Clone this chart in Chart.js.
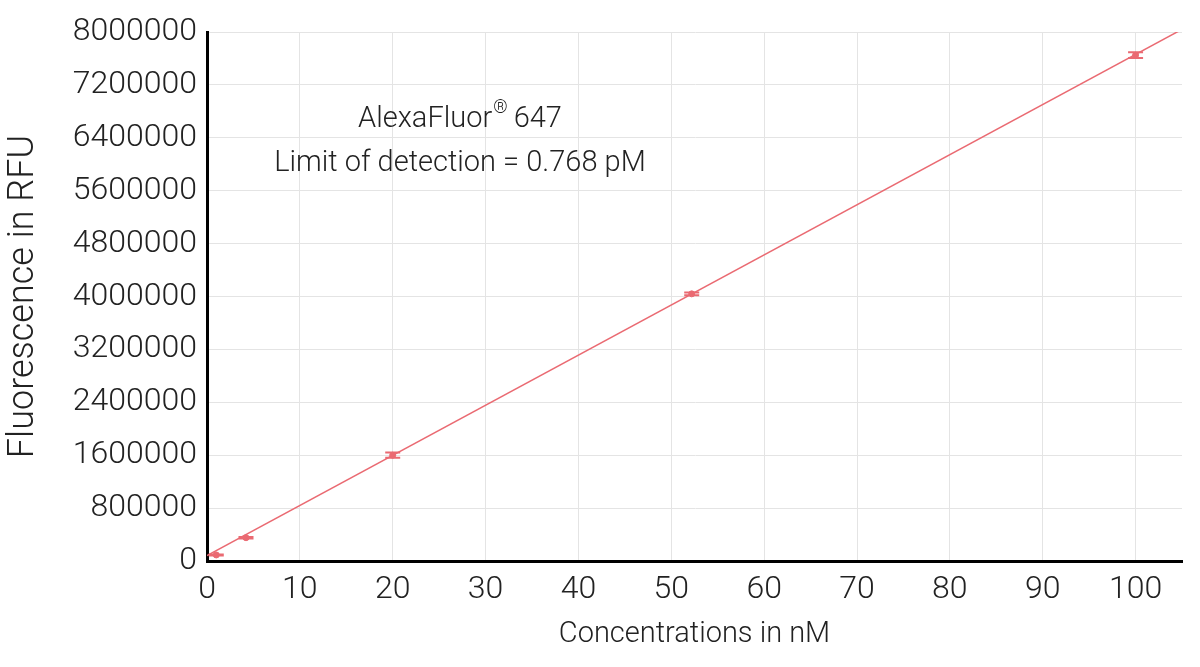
<!DOCTYPE html>
<html>
<head>
<meta charset="utf-8">
<script src="https://cdn.jsdelivr.net/npm/chart.js@4/dist/chart.umd.min.js"></script>
<style>
  html, body { margin: 0; padding: 0; background: #fff; }
  #chart { display: block; }
</style>
</head>
<body>
<canvas id="chart" width="1200" height="667"></canvas>
<script>
// measured points (concentration in nM, fluorescence in RFU)
const concentrations = [1, 4.2, 20, 52.2, 100];
const fluorescence = [91000, 352000, 1600000, 4040000, 7650000];
const errors = [8000, 12000, 40000, 20000, 45000];

// linear fit drawn across the whole axis
const fitX = [0, 105];
const fitY = [82000, 8040000];

const yTicks = [0, 800000, 1600000, 2400000, 3200000, 4000000, 4800000, 5600000, 6400000, 7200000, 8000000];
const xTicks = [0, 10, 20, 30, 40, 50, 60, 70, 80, 90, 100];

const annotationLines = ['AlexaFluor', 'Limit of detection = 0.768 pM'];

const red = '#ea6a72';
const textColor = '#222';
const fontFamily = 'Roboto, "Open Sans", sans-serif';

// draws vertical error bars with caps from the errors array
const errorBars = {
  id: 'errorBars',
  afterDatasetsDraw(chart) {
    const { ctx, scales: { x, y } } = chart;
    ctx.save();
    ctx.strokeStyle = red;
    ctx.lineWidth = 2;
    concentrations.forEach((c, i) => {
      const px = x.getPixelForValue(c);
      const top = y.getPixelForValue(fluorescence[i] + errors[i]);
      const bot = y.getPixelForValue(fluorescence[i] - errors[i]);
      ctx.beginPath();
      ctx.moveTo(px, top); ctx.lineTo(px, bot);
      ctx.moveTo(px - 7.5, top); ctx.lineTo(px + 7.5, top);
      ctx.moveTo(px - 7.5, bot); ctx.lineTo(px + 7.5, bot);
      ctx.stroke();
    });
    ctx.restore();
  }
};

// text block in the upper left of the plot
const annotation = {
  id: 'annotation',
  afterDraw(chart) {
    const { ctx, chartArea } = chart;
    const cx = chartArea.left + 253;
    const big = '300 29px ' + fontFamily;
    const small = '300 18px ' + fontFamily;
    ctx.save();
    ctx.fillStyle = textColor;
    ctx.textBaseline = 'alphabetic';
    const main = annotationLines[0];
    const tail = ' 647';
    ctx.font = big;
    const wMain = ctx.measureText(main).width;
    const wTail = ctx.measureText(tail).width;
    ctx.font = small;
    const wReg = ctx.measureText('®').width;
    const sx = cx - (wMain + wReg + wTail) / 2;
    ctx.textAlign = 'left';
    ctx.font = big;
    ctx.fillText(main, sx, 127);
    ctx.font = small;
    ctx.fillText('®', sx + wMain + 1, 113);
    ctx.font = big;
    ctx.fillText(tail, sx + wMain + wReg, 127);
    ctx.textAlign = 'center';
    ctx.fillText(annotationLines[1], cx, 171);
    ctx.restore();
  }
};

new Chart(document.getElementById('chart'), {
  type: 'scatter',
  data: {
    datasets: [
      {
        label: 'Fit',
        type: 'line',
        data: fitX.map((v, i) => ({ x: v, y: fitY[i] })),
        borderColor: red,
        borderWidth: 1.5,
        pointRadius: 0,
        fill: false,
        order: 2
      },
      {
        label: 'AlexaFluor 647',
        data: concentrations.map((v, i) => ({ x: v, y: fluorescence[i] })),
        backgroundColor: red,
        borderColor: red,
        pointRadius: 3,
        order: 1
      }
    ]
  },
  options: {
    responsive: false,
    animation: false,
    devicePixelRatio: 1,
    layout: { padding: { top: 32, right: 18, left: 0, bottom: 0 } },
    plugins: { legend: { display: false }, tooltip: { enabled: false } },
    scales: {
      x: {
        type: 'linear',
        min: 0,
        max: 105,
        border: { color: '#000', width: 3 },
        grid: { color: '#e4e4e4', lineWidth: 1, drawTicks: false },
        afterBuildTicks: s => { s.ticks = xTicks.map(v => ({ value: v })); },
        afterFit: s => { s.height = 106; },
        ticks: {
          color: textColor,
          padding: 10,
          maxRotation: 0,
          font: { family: fontFamily, size: 32, weight: '300' },
          callback: v => String(v)
        },
        title: {
          display: true,
          text: 'Concentrations in nM',
          color: textColor,
          font: { family: fontFamily, size: 29, weight: '300' },
          padding: { top: 15, bottom: 15 }
        }
      },
      y: {
        min: 0,
        max: 8000000,
        border: { color: '#000', width: 3 },
        grid: { color: '#e4e4e4', lineWidth: 1, drawTicks: false },
        afterBuildTicks: s => { s.ticks = yTicks.map(v => ({ value: v })); },
        afterFit: s => { s.width = 207; },
        ticks: {
          color: textColor,
          padding: 10,
          font: { family: fontFamily, size: 32, weight: '300' },
          callback: v => String(v)
        },
        title: {
          display: true,
          text: 'Fluorescence in RFU',
          color: textColor,
          font: { family: fontFamily, size: 36, weight: '300' },
          padding: { top: 2, bottom: 2 }
        }
      }
    }
  },
  plugins: [errorBars, annotation]
});
</script>
</body>
</html>
